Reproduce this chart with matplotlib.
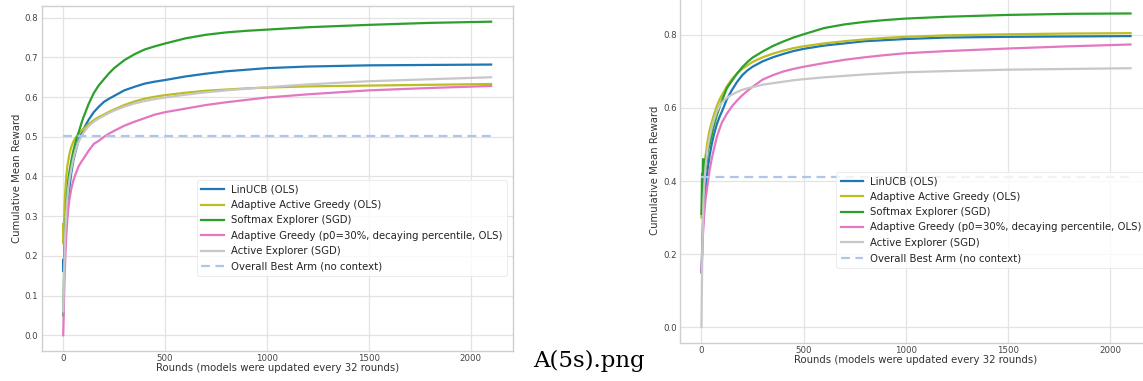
import matplotlib
matplotlib.use("Agg")
import matplotlib.pyplot as plt

# ---------------- data: left panel ----------------
rounds_a = [0, 2, 4, 7, 10, 15, 20, 25, 30, 40, 50, 60, 75, 90, 100, 125, 150, 175,
            200, 225, 250, 300, 350, 400, 450, 500, 600, 700, 800, 900, 1000, 1200,
            1500, 1800, 2100]
linucb_a = [0.19, 0.16, 0.19, 0.23, 0.26, 0.30, 0.33, 0.35, 0.37, 0.41, 0.44, 0.462,
            0.49, 0.508, 0.52, 0.543, 0.562, 0.576, 0.588, 0.596, 0.603, 0.617, 0.626,
            0.634, 0.639, 0.643, 0.652, 0.659, 0.665, 0.669, 0.673, 0.677, 0.680,
            0.681, 0.682]
aag_a = [0.28, 0.23, 0.28, 0.33, 0.36, 0.40, 0.425, 0.44, 0.455, 0.475, 0.488, 0.497,
         0.507, 0.515, 0.52, 0.532, 0.542, 0.55, 0.556, 0.563, 0.569, 0.58, 0.589,
         0.596, 0.601, 0.605, 0.611, 0.616, 0.619, 0.622, 0.624, 0.627, 0.629, 0.631,
         0.633]
softmax_a = [0.05, 0.10, 0.15, 0.21, 0.26, 0.32, 0.36, 0.39, 0.41, 0.44, 0.465, 0.485,
             0.51, 0.535, 0.55, 0.583, 0.61, 0.63, 0.645, 0.66, 0.673, 0.693, 0.708,
             0.72, 0.728, 0.735, 0.748, 0.757, 0.763, 0.767, 0.770, 0.776, 0.782,
             0.787, 0.790]
ag_a = [0.0, 0.04, 0.09, 0.15, 0.19, 0.25, 0.29, 0.318, 0.34, 0.37, 0.39, 0.405,
        0.425, 0.438, 0.445, 0.465, 0.482, 0.49, 0.50, 0.508, 0.515, 0.528, 0.538,
        0.547, 0.556, 0.562, 0.571, 0.58, 0.587, 0.593, 0.599, 0.607, 0.617, 0.623,
        0.628]
ae_a = [0.06, 0.10, 0.15, 0.21, 0.26, 0.31, 0.345, 0.37, 0.39, 0.42, 0.445, 0.465,
        0.487, 0.502, 0.51, 0.527, 0.538, 0.546, 0.553, 0.56, 0.566, 0.576, 0.584,
        0.59, 0.595, 0.599, 0.606, 0.612, 0.617, 0.621, 0.625, 0.632, 0.640, 0.645,
        0.650]
best_a = 0.503

# ---------------- data: right panel ----------------
rounds_b = [0, 2, 4, 7, 10, 15, 20, 25, 30, 40, 50, 60, 75, 90, 100, 125, 150, 175,
            200, 225, 250, 300, 350, 400, 450, 500, 600, 700, 800, 900, 1000, 1200,
            1500, 1800, 2100]
linucb_b = [0.15, 0.18, 0.22, 0.27, 0.31, 0.35, 0.38, 0.405, 0.43, 0.47, 0.50, 0.525,
            0.555, 0.578, 0.59, 0.625, 0.65, 0.672, 0.69, 0.703, 0.713, 0.728, 0.739,
            0.748, 0.756, 0.762, 0.771, 0.777, 0.783, 0.786, 0.789, 0.793, 0.795,
            0.796, 0.797]
aag_b = [0.30, 0.32, 0.35, 0.38, 0.41, 0.44, 0.47, 0.49, 0.51, 0.54, 0.56, 0.58,
         0.605, 0.625, 0.635, 0.66, 0.68, 0.695, 0.707, 0.717, 0.726, 0.739, 0.749,
         0.757, 0.764, 0.769, 0.777, 0.783, 0.788, 0.792, 0.795, 0.799, 0.802, 0.804,
         0.805]
ag_b = [0.15, 0.18, 0.21, 0.25, 0.28, 0.32, 0.35, 0.37, 0.39, 0.43, 0.46, 0.485,
        0.52, 0.545, 0.56, 0.585, 0.605, 0.621, 0.635, 0.647, 0.658, 0.678, 0.69,
        0.70, 0.707, 0.713, 0.723, 0.732, 0.739, 0.745, 0.75, 0.756, 0.763, 0.769,
        0.774]
ae_b = [0.0, 0.10, 0.20, 0.28, 0.35, 0.40, 0.44, 0.465, 0.49, 0.52, 0.545, 0.565,
        0.59, 0.607, 0.615, 0.628, 0.637, 0.644, 0.65, 0.654, 0.657, 0.664, 0.668,
        0.672, 0.676, 0.679, 0.684, 0.688, 0.692, 0.695, 0.698, 0.701, 0.705, 0.707,
        0.709]
softmax_rounds_b = [0, 3, 5, 8, 10, 12, 15, 18, 20, 23, 26, 30, 40, 50, 60, 75, 90,
                    100, 125, 150, 175, 200, 225, 250, 300, 350, 400, 450, 500, 600,
                    700, 800, 900, 1000, 1200, 1500, 1800, 2100]
softmax_b = [0.31, 0.42, 0.35, 0.46, 0.40, 0.45, 0.41, 0.46, 0.43, 0.47, 0.45, 0.48,
             0.50, 0.525, 0.55, 0.58, 0.605, 0.62, 0.655, 0.675, 0.695, 0.712, 0.726,
             0.738, 0.755, 0.77, 0.782, 0.793, 0.802, 0.819, 0.829, 0.836, 0.841,
             0.845, 0.850, 0.855, 0.858, 0.859]
best_b = 0.41

labels = ["LinUCB (OLS)", "Adaptive Active Greedy (OLS)", "Softmax Explorer (SGD)",
          "Adaptive Greedy (p0=30%, decaying percentile, OLS)", "Active Explorer (SGD)",
          "Overall Best Arm (no context)"]
colors = ["#1f77b4", "#bcbd22", "#2ca02c", "#e377c2", "#c7c7c7", "#aec7e8"]

plt.rcParams["font.family"] = ["DejaVu Sans"]

W, H = 1143, 381
fig = plt.figure(figsize=(W / 100, H / 100), dpi=100)
fig.patch.set_facecolor("white")


def make_axes(rect):
    ax = fig.add_axes(rect)
    ax.set_facecolor("white")
    for s in ax.spines.values():
        s.set_color("#cfcfcf")
        s.set_linewidth(1.0)
    ax.grid(True, color="#e3e3e3", linewidth=0.9)
    ax.set_axisbelow(True)
    ax.tick_params(length=0, labelsize=6.2, colors="#444444", pad=2.5)
    return ax


def draw(ax, rounds, series, soft_rounds, best):
    lw = 1.6
    for i, ys in enumerate(series):
        xs = soft_rounds if (i == 2 and soft_rounds is not None) else rounds
        ax.plot(xs, ys, color=colors[i], lw=lw, label=labels[i])
    ax.plot([rounds[0], rounds[-1]], [best, best], color=colors[5], lw=lw,
            ls=(0, (4, 2.5)), label=labels[5])
    ax.set_xlim(-105, 2205)
    ax.set_xticks([0, 500, 1000, 1500, 2000])
    ax.set_xlabel("Rounds (models were updated every 32 rounds)", fontsize=7.3,
                  color="#333333", labelpad=0)
    ax.set_ylabel("Cumulative Mean Reward", fontsize=7.3, color="#333333", labelpad=2)
    leg = ax.legend(loc="lower right", bbox_to_anchor=(0.988, 0.217),
                    borderaxespad=0, fontsize=7.3, frameon=True, handlelength=2.2,
                    labelspacing=0.53, handletextpad=0.7, borderpad=0.45)
    leg.get_frame().set_edgecolor("#e8e8e8")
    leg.get_frame().set_linewidth(0.8)
    for t in leg.get_texts():
        t.set_color("#222222")


# left panel
ax1 = make_axes([41.8 / W, 30 / H, 470.7 / W, 345 / H])
draw(ax1, rounds_a, [linucb_a, aag_a, softmax_a, ag_a, ae_a], None, best_a)
ax1.set_ylim(-0.0396, 0.8295)
ax1.set_yticks([0.0, 0.1, 0.2, 0.3, 0.4, 0.5, 0.6, 0.7, 0.8])

# right panel (cut off by the figure's right and top edges)
ax2 = make_axes([680 / W, 38.3 / H, 472 / W, 345.3 / H])
draw(ax2, rounds_b, [linucb_b, aag_b, softmax_b, ag_b, ae_b], softmax_rounds_b, best_b)
ax2.set_ylim(-0.043, 0.903)
ax2.set_yticks([0.0, 0.2, 0.4, 0.6, 0.8])

fig.text(533 / W, 1 - 367 / H, "A(5s).png", family=["DejaVu Serif"],
         fontsize=16.5, color="black", ha="left", va="baseline")

fig.savefig("out.png", dpi=100)
